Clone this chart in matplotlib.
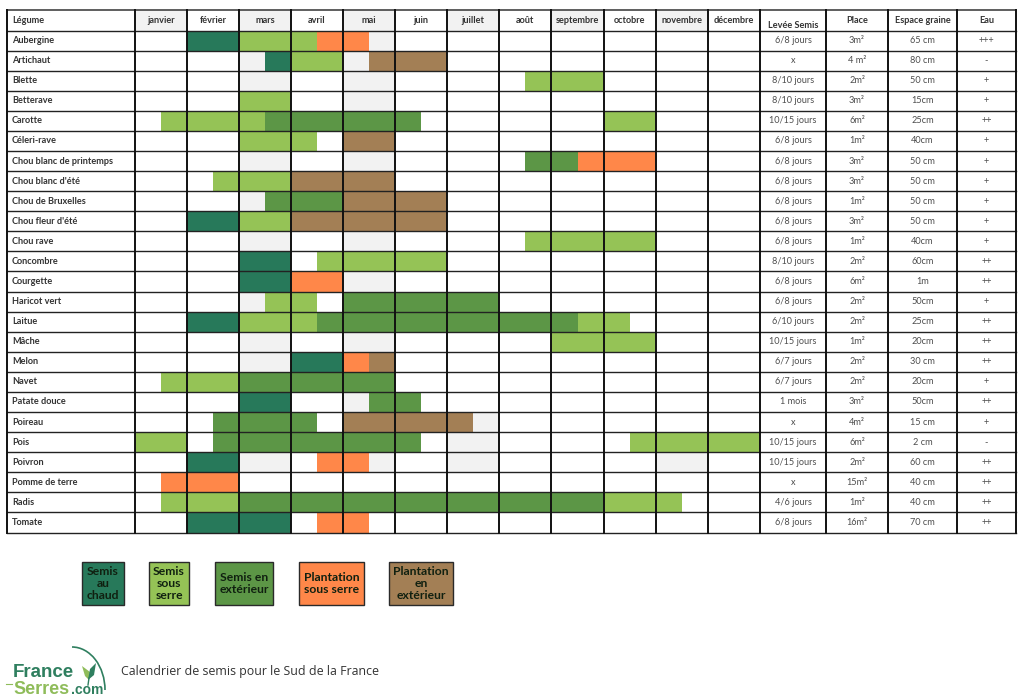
# Calendrier de semis pour le Sud de la France
import matplotlib
matplotlib.use("Agg")
import matplotlib.pyplot as plt
import numpy as np
from matplotlib.colors import ListedColormap
from matplotlib.patches import Arc, Rectangle, Polygon

plt.rcParams['font.family'] = ['Lato', 'DejaVu Sans']

months = ["janvier", "février", "mars", "avril", "mai", "juin", "juillet",
          "août", "septembre", "octobre", "novembre", "décembre"]
extra_headers = ["Levée Semis", "Place", "Espace graine", "Eau"]

# one letter per half month
# . empty, g grey, C chaud, S sous serre, E exterieur, P plantation serre, B plantation ext
legumes = ["Aubergine", "Artichaut", "Blette", "Betterave", "Carotte", "Céleri-rave",
           "Chou blanc de printemps", "Chou blanc d'été", "Chou de Bruxelles",
           "Chou fleur d'été", "Chou rave", "Concombre", "Courgette", "Haricot vert",
           "Laitue", "Mâche", "Melon", "Navet", "Patate douce", "Poireau", "Pois",
           "Poivron", "Pomme de terre", "Radis", "Tomate"]
calendar = [
    "..CCSSSPPg..............",
    "....gCSSgBBB............",
    "....gg..gg.....SSS......",
    "....SS..gg..............",
    ".SSSSEEEEEE.......SS....",
    "....SSS.BB..............",
    "....gg..gg.....EEPPP....",
    "...SSSBBBB..............",
    "....gEEEBBBB............",
    "..CCSSBBBBBB............",
    "....gg..gg.....SSSSS....",
    "....CC.SSSSS............",
    "....CCPPgg..............",
    "....gSS.EEEEEE..........",
    "..CCSSSEEEEEEEEEESS.....",
    "....gg..gg......SSSS....",
    "....ggCCPB..............",
    ".SSSEEEEEE..............",
    "....CC..gEE.............",
    "...EEEE.BBBBBg..........",
    "SS.EEEEEEEE.gg.....SSSSS",
    "..CCgg.PPg..gg......gg..",
    ".PPP....................",
    ".SSSEEEEEEEEEEEEEESSS...",
    "..CCCC.PP...............",
]
levee = ["6/8 jours", "x", "8/10 jours", "8/10 jours", "10/15 jours", "6/8 jours",
         "6/8 jours", "6/8 jours", "6/8 jours", "6/8 jours", "6/8 jours", "8/10 jours",
         "6/8 jours", "6/8 jours", "6/10 jours", "10/15 jours", "6/7 jours", "6/7 jours",
         "1 mois", "x", "10/15 jours", "10/15 jours", "x", "4/6 jours", "6/8 jours"]
place = ["3m²", "4 m²", "2m²", "3m²", "6m²", "1m²", "3m²", "3m²", "1m²", "3m²", "1m²",
         "2m²", "6m²", "2m²", "2m²", "1m²", "2m²", "2m²", "3m²", "4m²", "6m²", "2m²",
         "15m²", "1m²", "16m²"]
espace = ["65 cm", "80 cm", "50 cm", "15cm", "25cm", "40cm", "50 cm", "50 cm", "50 cm",
          "50 cm", "40cm", "60cm", "1m", "50cm", "25cm", "20cm", "30 cm", "20cm", "50cm",
          "15 cm", "2 cm", "60 cm", "40 cm", "40 cm", "70 cm"]
eau = ["+++", "-", "+", "+", "++", "+", "+", "+", "+", "+", "+", "++", "++", "+", "++",
       "++", "++", "+", "++", "+", "-", "++", "++", "++", "++"]

legend_labels = ["Semis\nau\nchaud", "Semis\nsous\nserre", "Semis en\nextérieur",
                 "Plantation\nsous serre", "Plantation\nen\nextérieur"]

codes = ".gCSEPB"
colors = ["#ffffff", "#f2f2f2", "#27795a", "#95c356", "#5c9646", "#ff8749", "#a37f55"]

month_edges = np.array([135, 187, 239, 291, 343, 395, 447, 499, 551, 604, 656, 708, 760])
half_edges = np.sort(np.concatenate([month_edges, (month_edges[:-1] + month_edges[1:]) / 2]))
extra_edges = [760, 826, 888, 957, 1016]
left = 7
head_top, head_bot = 9.5, 30.5
row_edges = np.linspace(30.5, 532.5, len(legumes) + 1)

fig = plt.figure(figsize=(10.24, 7), dpi=100)
ax = fig.add_axes([0, 0, 1, 1])
ax.set_xlim(0, 1024)
ax.set_ylim(700, 0)
ax.axis('off')

grid = np.array([[codes.index(c) for c in row] for row in calendar])
ax.pcolormesh(half_edges, row_edges, grid, cmap=ListedColormap(colors), vmin=0, vmax=6)

# header shading, every other month is grey
for i in range(0, 12, 2):
    ax.add_patch(Rectangle((month_edges[i], head_top), month_edges[i + 1] - month_edges[i],
                           head_bot - head_top, fc=colors[1], ec='none'))

# grid lines
for y in row_edges:
    ax.plot([left, extra_edges[-1]], [y, y], color='#222222', lw=1.0)
ax.plot([left, extra_edges[-1]], [head_top, head_top], color='#333333', lw=1.1)
for x in [left, *month_edges, *extra_edges[1:]]:
    ax.plot([x, x], [head_top, row_edges[-1]], color='#111111', lw=1.4)

label_kw = dict(ha='center', va='center', fontsize=6.6, color='#4d4d4d')
ax.text(12, 20.5, "Légume", ha='left', va='center', fontsize=6.6, fontweight='bold', color='#333333')
for i, m in enumerate(months):
    ax.text((month_edges[i] + month_edges[i + 1]) / 2, 20.5, m, ha='center', va='center',
            fontsize=6.6, fontweight='bold', color='#333333')
for i, h in enumerate(extra_headers):
    y = 25 if i == 0 else 20.5
    ax.text((extra_edges[i] + extra_edges[i + 1]) / 2, y, h, ha='center', va='center',
            fontsize=6.6, fontweight='bold', color='#333333')

for r, name in enumerate(legumes):
    y = (row_edges[r] + row_edges[r + 1]) / 2
    ax.text(12, y, name, ha='left', va='center', fontsize=6.6, fontweight='bold', color='#333333')
    for i, col in enumerate([levee, place, espace, eau]):
        ax.text((extra_edges[i] + extra_edges[i + 1]) / 2, y, col[r], **label_kw)

# legend boxes
boxes = [(82, 124), (149, 189), (215, 273), (299, 364), (389, 453)]
for (x0, x1), lab, c in zip(boxes, legend_labels, [colors[k] for k in (2, 3, 4, 5, 6)]):
    ax.add_patch(Rectangle((x0, 562), x1 - x0, 43, fc=c, ec='#2a2a2a', lw=1.0))
    ax.text((x0 + x1) / 2, 583.5, lab, ha='center', va='center', fontsize=8.7,
            fontweight='bold', color='#102010', linespacing=1.15)

ax.text(121, 671, "Calendrier de semis pour le Sud de la France", ha='left', va='center',
        fontsize=8.95, family=['Open Sans', 'DejaVu Sans'], color='#333333')

# logo
logo_font = ['Liberation Sans', 'DejaVu Sans']
ax.text(13, 677, "France", ha='left', va='baseline', fontsize=13.5, fontweight='bold',
        family=logo_font, color='#2f7f5f')
ax.text(13, 694, "Serres", ha='left', va='baseline', fontsize=13, fontweight='bold',
        family=logo_font, color='#8fbc5a')
ax.text(71, 694, ".com", ha='left', va='baseline', fontsize=10, fontweight='bold',
        family=logo_font, color='#2f7f5f')
ax.plot([6, 12], [684, 684], color='#8fbc5a', lw=0.8)
ax.add_patch(Arc((72, 690), 66, 86, theta1=270, theta2=360, color='#2f7f5f', lw=1.2))
ax.add_patch(Polygon([(82, 666), (85, 676), (89, 680), (90, 672)], fc='#8fbc5a', ec='none'))
ax.add_patch(Polygon([(96, 663), (90, 669), (88, 680), (94, 675)], fc='#2f7f5f', ec='none'))
ax.plot([89, 88], [678, 685], color='#2f7f5f', lw=1.0)

fig.savefig("out.png", dpi=100)
